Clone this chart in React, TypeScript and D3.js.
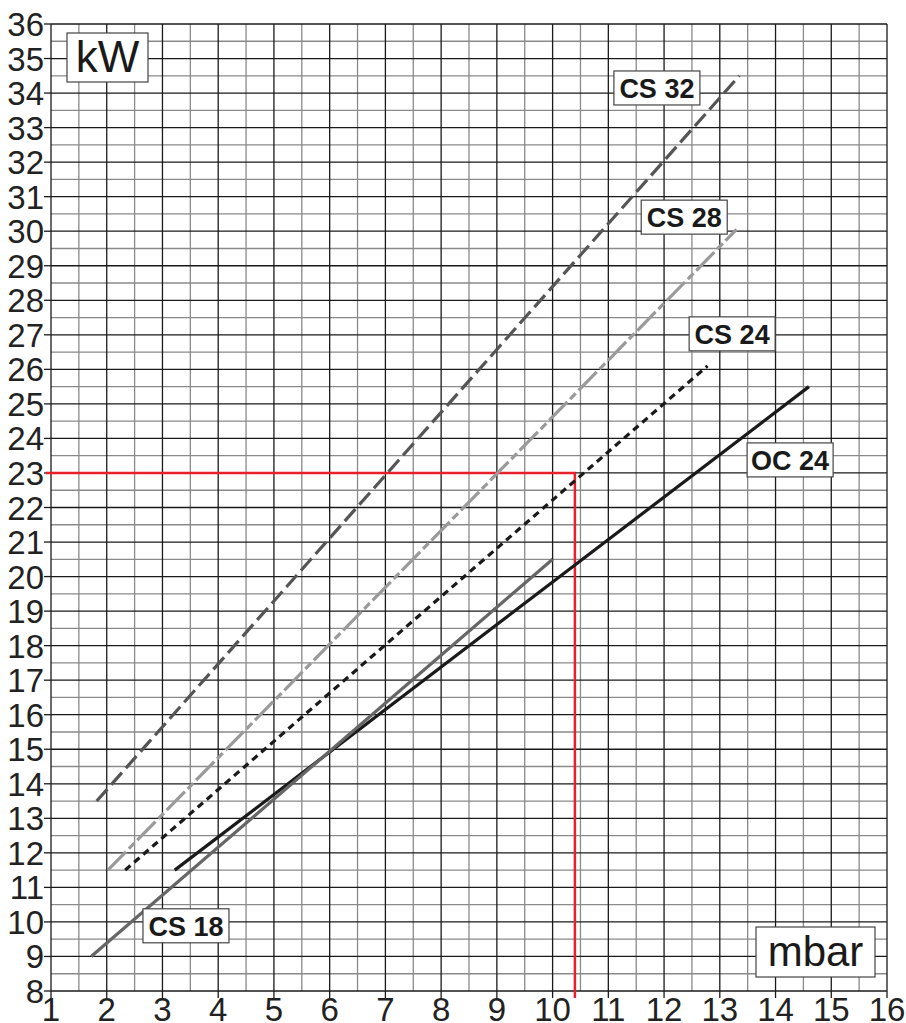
import React from "react";
import * as d3 from "d3";

// Pressure (mbar) against output (kW) for each burner model
const xTicks = d3.range(1, 17);
const yTicks = d3.range(8, 37);

const seriesNames = ["CS 32", "CS 28", "CS 24", "OC 24", "CS 18"];
const cs32: [number, number][] = [[1.82, 13.5], [13.35, 34.5]];
const cs28: [number, number][] = [[2.02, 11.5], [13.3, 30.05]];
const cs24: [number, number][] = [[2.33, 11.5], [12.78, 26.1]];
const oc24: [number, number][] = [[3.22, 11.5], [14.6, 25.5]];
const cs18: [number, number][] = [[1.72, 9.0], [10.0, 20.5]];

// Reading example: 23 kW on the CS 24 curve
const readX = 10.4;
const readY = 23;

// Label boxes anchored in data units (left, top)
const labelPos: [number, number][] = [[11.1, 34.64], [11.59, 30.9], [12.45, 27.52], [13.49, 23.87], [2.65, 10.38]];

const W = 906;
const H = 1023;

export default function App() {
  const x = d3.scaleLinear().domain([1, 16]).range([51, 887]);
  const y = d3.scaleLinear().domain([8, 36]).range([991, 24]);
  const line = d3.line<[number, number]>().x((d) => x(d[0])).y((d) => y(d[1]));

  const halfX = d3.range(1.5, 16, 1);
  const halfY = d3.range(8.5, 36, 1);

  const styles = [
    { color: "#555555", dash: "16 6" },
    { color: "#9a9a9a", dash: "26 4 8 4" },
    { color: "#1a1a1a", dash: "7 5" },
    { color: "#1a1a1a", dash: "" },
    { color: "#666666", dash: "" },
  ];
  const series = [cs32, cs28, cs24, oc24, cs18];

  const font = "Liberation Sans, Arial, Helvetica, sans-serif";

  return (
    <svg width={W} height={H} style={{ position: "absolute", left: 0, top: 0, background: "#fff" }} fontFamily={font}>
      {/* half-step grid */}
      {halfX.map((v) => (
        <line key={"hx" + v} x1={x(v)} x2={x(v)} y1={y(8)} y2={y(36)} stroke="#8a8a8a" strokeWidth={1.3} />
      ))}
      {halfY.map((v) => (
        <line key={"hy" + v} x1={x(1)} x2={x(16)} y1={y(v)} y2={y(v)} stroke="#8a8a8a" strokeWidth={1.3} />
      ))}
      {/* integer grid */}
      {xTicks.map((v) => (
        <line key={"gx" + v} x1={x(v)} x2={x(v)} y1={y(8)} y2={y(36)} stroke="#1a1a1a" strokeWidth={1.3} />
      ))}
      {yTicks.map((v) => (
        <line key={"gy" + v} x1={x(1)} x2={x(16)} y1={y(v)} y2={y(v)} stroke="#1a1a1a" strokeWidth={1.3} />
      ))}
      {/* tick marks */}
      {yTicks.map((v) => (
        <line key={"ty" + v} x1={x(1) - 7} x2={x(1)} y1={y(v)} y2={y(v)} stroke="#1a1a1a" strokeWidth={1.3} />
      ))}
      {xTicks.map((v) => (
        <line key={"tx" + v} x1={x(v)} x2={x(v)} y1={y(8)} y2={y(8) + 7} stroke="#1a1a1a" strokeWidth={1.3} />
      ))}
      {/* tick labels */}
      {yTicks.map((v) => (
        <text key={"ly" + v} x={x(1) - 7} y={y(v) + 12} textAnchor="end" fontSize={33} fill="#222">
          {v}
        </text>
      ))}
      {xTicks.map((v) => (
        <text key={"lx" + v} x={x(v)} y={1021} textAnchor="middle" fontSize={33} fill="#222">
          {v}
        </text>
      ))}

      {/* reading guide */}
      <path
        d={`M${x(1) - 5},${y(readY)}H${x(readX)}V${y(8) + 7}`}
        fill="none"
        stroke="#e8202a"
        strokeWidth={2.5}
      />

      {/* series */}
      {series.map((s, i) => (
        <path
          key={seriesNames[i]}
          d={line(s) || ""}
          fill="none"
          stroke={styles[i].color}
          strokeWidth={3.2}
          strokeDasharray={styles[i].dash || undefined}
        />
      ))}

      {/* series labels */}
      {seriesNames.map((n, i) => {
        const bx = x(labelPos[i][0]);
        const by = y(labelPos[i][1]);
        return (
          <g key={"lab" + n}>
            <rect x={bx} y={by} width={86} height={34} fill="#fff" stroke="#444" strokeWidth={1.2} />
            <text x={bx + 43} y={by + 27} textAnchor="middle" fontSize={27} fontWeight="bold" fill="#1a1a1a">
              {n}
            </text>
          </g>
        );
      })}

      {/* axis unit boxes */}
      <rect x={67} y={33} width={81} height={49} fill="#fff" stroke="#444" strokeWidth={1.2} />
      <text x={107.5} y={72} textAnchor="middle" fontSize={44} fill="#1a1a1a">
        kW
      </text>
      <rect x={756} y={927} width={119} height={50} fill="#fff" stroke="#444" strokeWidth={1.2} />
      <text x={815.5} y={966} textAnchor="middle" fontSize={42} fill="#1a1a1a">
        mbar
      </text>
    </svg>
  );
}
